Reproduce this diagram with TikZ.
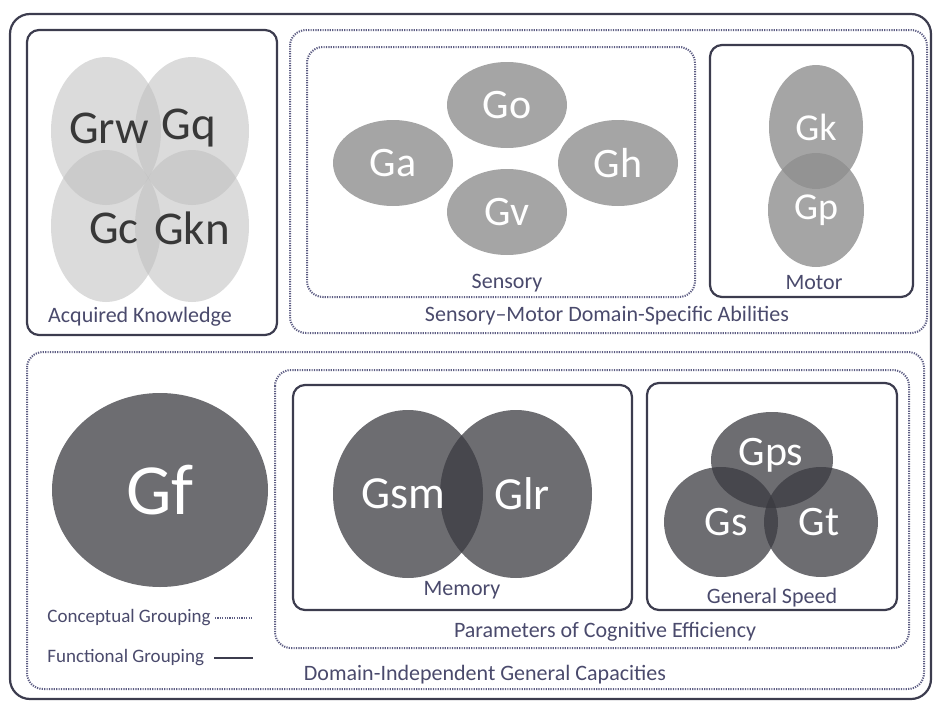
\documentclass[tikz,border=0pt]{standalone}
\usepackage{fontspec}
\setmainfont{Carlito}
\usepackage{tikz}
\usetikzlibrary{shapes.geometric}
\definecolor{framecol}{HTML}{3C3C4E}
\definecolor{dotcol}{HTML}{5C5C82}
\definecolor{labelcol}{HTML}{4A4A6C}
\definecolor{darkg}{HTML}{3A3A40}

\begin{document}
\begin{tikzpicture}[x=0.5pt, y=-0.5pt,
    solidbox/.style={draw=framecol, line width=1.1pt, rounded corners=6pt},
    dotbox/.style={draw=dotcol, line width=1pt, dash pattern=on 0.6pt off 0.6pt, rounded corners=8pt},
    grp/.style={text=labelcol, font=\fontsize{11}{13}\selectfont},
    legend/.style={text=labelcol, font=\fontsize{9.5}{11}\selectfont, anchor=west, inner sep=0pt},
    radii/.style 2 args={minimum width=#1pt, minimum height=#2pt},
    blob/.style={ellipse, inner sep=0pt},
    know/.style={blob, fill=black!25, fill opacity=0.57},
    sense/.style={blob, fill=black!44, fill opacity=0.8},
    dark/.style={blob, fill=darkg, fill opacity=0.74},
    knowtxt/.style={text=black!78, font=\fontsize{23.5}{25}\selectfont},
    whitetxt/.style={text=white, font=\fontsize{#1}{#1}\selectfont},
    whitetxt/.default=23]
  \useasboundingbox (0,0) rectangle (933,702);

  % groupings
  \draw[solidbox, rounded corners=10pt] (10,14) rectangle (931,699);
  \draw[solidbox] (27,30) rectangle (277,335);
  \draw[dotbox] (290,30) rectangle (927,333);
  \draw[dotbox] (307,47) rectangle (695,297);
  \draw[solidbox] (710,45) rectangle (913,297);
  \draw[dotbox] (27,352) rectangle (924,689);
  \draw[dotbox] (275,370) rectangle (909,648);
  \draw[solidbox] (293,385) rectangle (632,610);
  \draw[solidbox] (647,383) rectangle (897,610);

  % acquired knowledge
  \node[know, radii={55}{74}] (grw) at (106,131) {};
  \node[know, radii={57}{74}] (gq) at (192,131) {};
  \node[know, radii={55}{76}] (gc) at (106,226) {};
  \node[know, radii={57}{76}] (gkn) at (192,226) {};
  \node[knowtxt] (grwtxt) at (109,128) {Grw};
  \node[knowtxt] (gqtxt) at (189,128) {Gq};
  \node[knowtxt] (gctxt) at (114,228) {Gc};
  \node[knowtxt] (gkntxt) at (192,228) {Gkn};
  \node[grp] (acq) at (140,317) {Acquired Knowledge};

  % sensory and motor
  \node[sense, radii={60}{43}] (go) at (507,105) {};
  \node[sense, radii={60}{43}] (ga) at (393,163) {};
  \node[sense, radii={60}{43}] (gh) at (618,163) {};
  \node[sense, radii={60}{43}] (gv) at (507,212) {};
  \node[whitetxt=21] (gotxt) at (go) {Go};
  \node[whitetxt=21] (gatxt) at (ga) {Ga};
  \node[whitetxt=21] (ghtxt) at (gh) {Gh};
  \node[whitetxt=21] (gvtxt) at (gv) {Gv};
  \node[grp] (sens) at (507,283) {Sensory};
  \node[sense, radii={47}{62}] (gk) at (816,127) {};
  \node[sense, radii={48}{57}] (gp) at (816,210) {};
  \node[whitetxt=19] (gktxt) at (gk) {Gk};
  \node[whitetxt=19] (gptxt) at (gp) {Gp};
  \node[grp] (mot) at (814,283) {Motor};
  \node[grp] (smd) at (607,316) {Sensory–Motor Domain-Specific Abilities};

  % general capacities
  \node[dark, radii={108}{97}] (gf) at (160,490) {};
  \node[whitetxt=36] (gftxt) at (gf) {Gf};
  \node[dark, radii={75}{84}] (gsm) at (408,494) {};
  \node[dark, radii={76}{84}] (glr) at (516,494) {};
  \node[whitetxt] (gsmtxt) at (403,494) {Gsm};
  \node[whitetxt] (glrtxt) at (522,494) {Glr};
  \node[grp] (mem) at (462,590) {Memory};
  \node[dark, radii={61}{48}] (gps) at (772,460) {};
  \node[dark, radii={57}{55}] (gs) at (721,522) {};
  \node[dark, radii={57}{55}] (gt) at (821,522) {};
  \node[whitetxt=21] (gpstxt) at (771,455) {Gps};
  \node[whitetxt=21] (gstxt) at (726,522) {Gs};
  \node[whitetxt=21] (gttxt) at (819,522) {Gt};
  \node[grp] (spd) at (772,598) {General Speed};
  \node[grp] (pce) at (605,632) {Parameters of Cognitive Efficiency};
  \node[grp] (dig) at (485,675) {Domain-Independent General Capacities};

  % legend
  \node[legend] (concept) at (47,618) {Conceptual Grouping};
  \node[legend] (func) at (47,658) {Functional Grouping};
  \coordinate (cend) at (253,618);
  \coordinate (fend) at (253,658);
  \draw[draw=dotcol, line width=1pt, dash pattern=on 0.6pt off 0.6pt] ([xshift=2pt]concept.east) -- (cend);
  \draw[draw=framecol, line width=1.1pt] ([xshift=5pt]func.east) -- (fend);
\end{tikzpicture}
\end{document}
